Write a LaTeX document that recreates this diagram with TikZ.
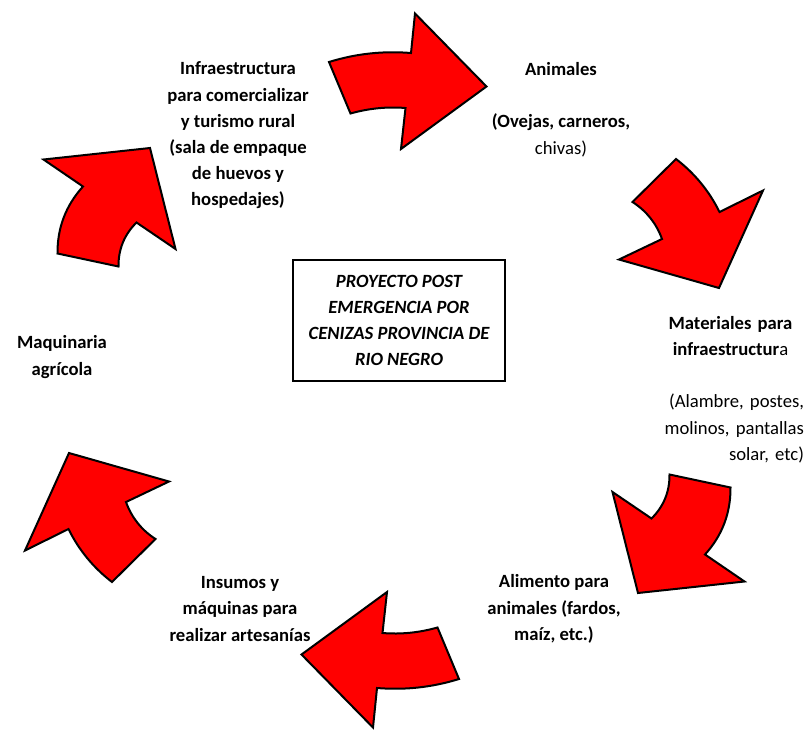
\documentclass[tikz,border=0pt]{standalone}
\usepackage{fontspec}
\setmainfont{Carlito}
\usetikzlibrary{positioning}
\tikzset{%
  flecha/.style = {draw = black, fill = red, line width = 1.5pt,
    line join = miter}, % cycle arrow
  texto/.style  = {font = \fontsize{14}{19.65}\selectfont\bfseries,
    align = center, inner sep = 0pt}, % label
  caja/.style   = {draw, line width = 1pt, minimum width = 159pt,
    minimum height = 90.75pt, font = \fontsize{14}{19.65}\selectfont\bfseries\itshape,
    align = center} % centre box
}
% the three arrows of one half, the other half is the same turned by 180
\newcommand{\flechaa}{\draw[flecha] (329,62) .. controls (355.7,53.7) and (383,50.7) .. (411,53)
  -- (415,13.5) -- (486.5,86.5) -- (401,149) -- (405.5,108)
  .. controls (386.8,106.5) and (368.5,108.4) .. (350.5,113.5) -- cycle;}
\newcommand{\flechab}{\draw[flecha] (676,159) .. controls (694.6,173.3) and (709.1,190.9) .. (719.5,212)
  -- (763,190.5) -- (719,288) -- (619,259.5) -- (662,239)
  .. controls (656.3,223.3) and (646.5,211) .. (632.5,202) -- cycle;}
\newcommand{\flechac}{\draw[flecha] (669.5,474.5) -- (730.5,487.5)
  .. controls (730.7,513.2) and (722.2,535.5) .. (705,554.5) -- (744.5,581.5) -- (638,593)
  -- (612.5,492) -- (651.5,518.5) .. controls (663.7,506.4) and (669.7,491.7) .. cycle;}

\begin{document}
\begin{tikzpicture}[x = 0.75pt, y = -0.75pt]
\useasboundingbox (0,0) rectangle (807,729);
%arrows
\foreach \ang in {0,180}{
  \begin{scope}[rotate around = {\ang:(394,370.5)}]
    \flechaa
    \flechab
    \flechac
  \end{scope}
}
%box
\draw
	(399,320.5) node [caja] (proyecto) {PROYECTO POST\\ EMERGENCIA POR\\ CENIZAS PROVINCIA DE\\ RIO NEGRO};
%labels
\draw
	(561,109.5) node [texto] (animales) {Animales\\ ~\\ (Ovejas, carneros,\\ \mdseries chivas)}
	(730.5,389.5) node [texto, text width = 110.25pt] (materiales) {Materiales para\\
		infraestructur{\mdseries a}\\ ~\\
		\makebox[\linewidth][r]{\mdseries (Alambre, postes,}\\
		\makebox[\linewidth][r]{\mdseries molinos, pantallas}\\
		\makebox[\linewidth][r]{\mdseries solar, etc)}}
	(554,609) node [texto] (alimento) {Alimento para\\ animales (fardos,\\ maíz, etc.)}
	(240,609) node [texto] (insumos) {Insumos y\\ máquinas para\\ realizar artesanías}
	(62,357) node [texto] (maquinaria) {Maquinaria\\ agrícola}
	(238,135.5) node [texto] (infra) {Infraestructura\\ para comercializar\\ y turismo rural\\ (sala de empaque\\ de huevos y\\ hospedajes)};
\end{tikzpicture}
\end{document}
